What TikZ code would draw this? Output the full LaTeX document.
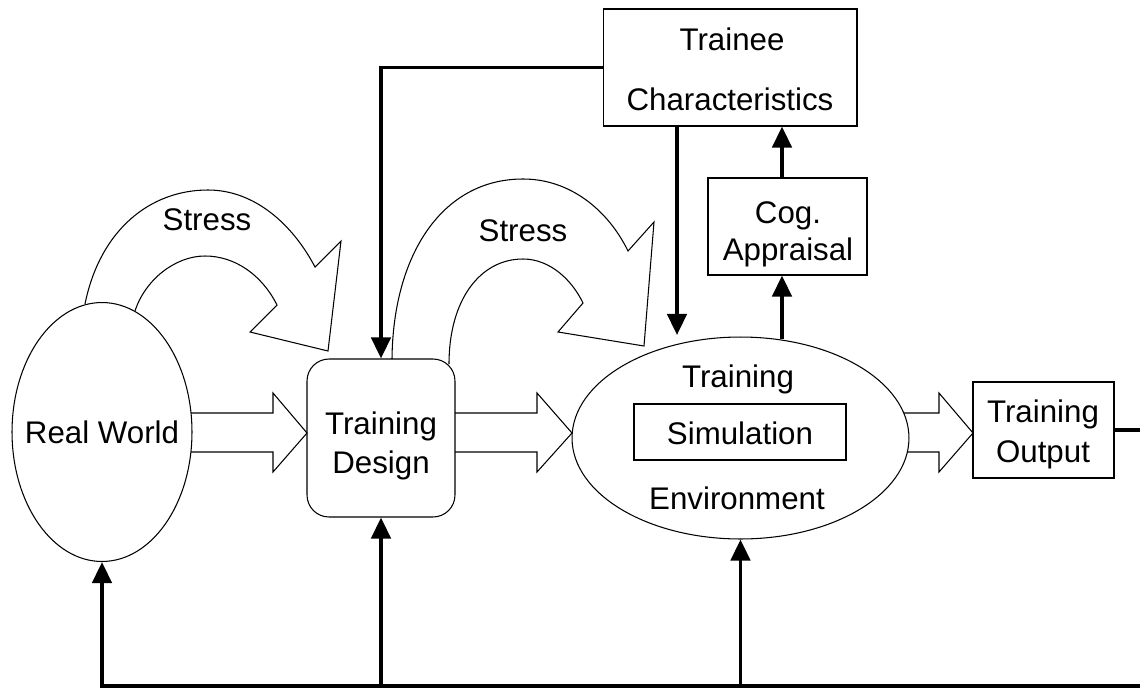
\documentclass[tikz,border=0pt]{standalone}
\usepackage{fontspec}
\setmainfont{Liberation Sans}
\usetikzlibrary{shapes.geometric,arrows.meta}
\begin{document}
\begin{tikzpicture}[x=0.02cm,y=-0.02cm,
  box/.style={draw,line width=0.6pt,rectangle,inner sep=0pt},
  oval/.style={draw,line width=0.6pt,ellipse,inner sep=0pt},
  lbl/.style={anchor=base,font=\fontsize{17.8}{21}\selectfont,inner sep=0pt},
  conn/.style={line width=2.1pt,line join=miter},
  fbarrow/.style={-{Triangle[length=12pt,width=11pt]}},
  shapeline/.style={line width=0.6pt,line join=miter}]
\useasboundingbox (0,0) rectangle (1140,687);

% main shapes
\node[oval,minimum width=3.6cm,minimum height=5.18cm] (rw) at (102,432) {};
\node[lbl] (rwt) at (102,443) {Real World};

\node[box,rounded corners=0.44cm,minimum width=2.96cm,minimum height=3.16cm] (td) at (381,438) {};
\node[lbl] (tdt1) at (381,434) {Training};
\node[lbl] (tdt2) at (381,473) {Design};

\node[oval,minimum width=6.74cm,minimum height=4.04cm] (te) at (740.5,438) {};
\node[lbl] (tet1) at (738,387) {Training};
\node[box,minimum width=4.24cm,minimum height=1.12cm] (sim) at (740,432) {};
\node[lbl] (simt) at (740,444) {Simulation};
\node[lbl] (tet2) at (737,509) {Environment};

\node[box,minimum width=2.82cm,minimum height=1.92cm] (to) at (1043.5,430) {};
\node[lbl] (tot1) at (1043,422) {Training};
\node[lbl] (tot2) at (1043,462) {Output};

\node[box,minimum width=5.08cm,minimum height=2.34cm] (tc) at (730,67.5) {};
\node[lbl] (tct1) at (732,50) {Trainee};
\node[lbl] (tct2) at (730,110) {Characteristics};

\node[box,minimum width=3.18cm,minimum height=1.94cm] (cog) at (787.5,226.5) {};
\node[lbl] (cogt1) at (788,223) {Cog.};
\node[lbl] (cogt2) at (788,260) {Appraisal};

% block arrows
\draw[shapeline] (191,413) -- (273,413) -- (273,393) -- (307,433) -- (273,472) -- (273,452) -- (191,452);
\draw[shapeline] (455,413) -- (537,413) -- (537,393) -- (572,433) -- (537,472) -- (537,452) -- (455,452);
\draw[shapeline] (904,413) -- (939,413) -- (939,393) -- (973,433) -- (939,472) -- (939,452) -- (907,452);

% stress arrows
\draw[shapeline] (85,304) .. controls (100,230) and (150,190) .. (208,190)
  .. controls (255,190) and (293,225) .. (315,267)
  -- (341,241) -- (328,351) -- (250,332) -- (277,305)
  .. controls (262,275) and (235,256) .. (205,256)
  .. controls (175,256) and (145,280) .. (135,311);
\node[lbl] (s1) at (207,230) {Stress};

\draw[shapeline] (392,359) .. controls (393,255) and (442,179) .. (523,179)
  .. controls (570,179) and (608,210) .. (628,251)
  -- (654,222) -- (644,346) -- (558,332) -- (583,303)
  .. controls (572,280) and (550,259) .. (523,259)
  .. controls (480,259) and (449,300) .. (449,364);
\node[lbl] (s2) at (523,241) {Stress};

% connectors
\coordinate (tcdown) at (677,0);
\coordinate (cogx) at (782,0);
\coordinate (fb) at (1152,686);

\draw[conn,fbarrow] (tc.west) -| (td.north);
\draw[conn,fbarrow] (tcdown |- tc.south) -- (677,335);
\draw[conn,fbarrow] (cogx |- te.north) ++(0,3) -- (cogx |- cog.south);
\draw[conn,fbarrow] (cogx |- cog.north) -- (cogx |- tc.south);

\draw[conn,fbarrow] (to.east) -| (fb) -| (rw.south);
\draw[conn,fbarrow] (td.south |- fb) -- (td.south);
\draw[conn,fbarrow] (te.south |- fb) -- (te.south);
\end{tikzpicture}
\end{document}
